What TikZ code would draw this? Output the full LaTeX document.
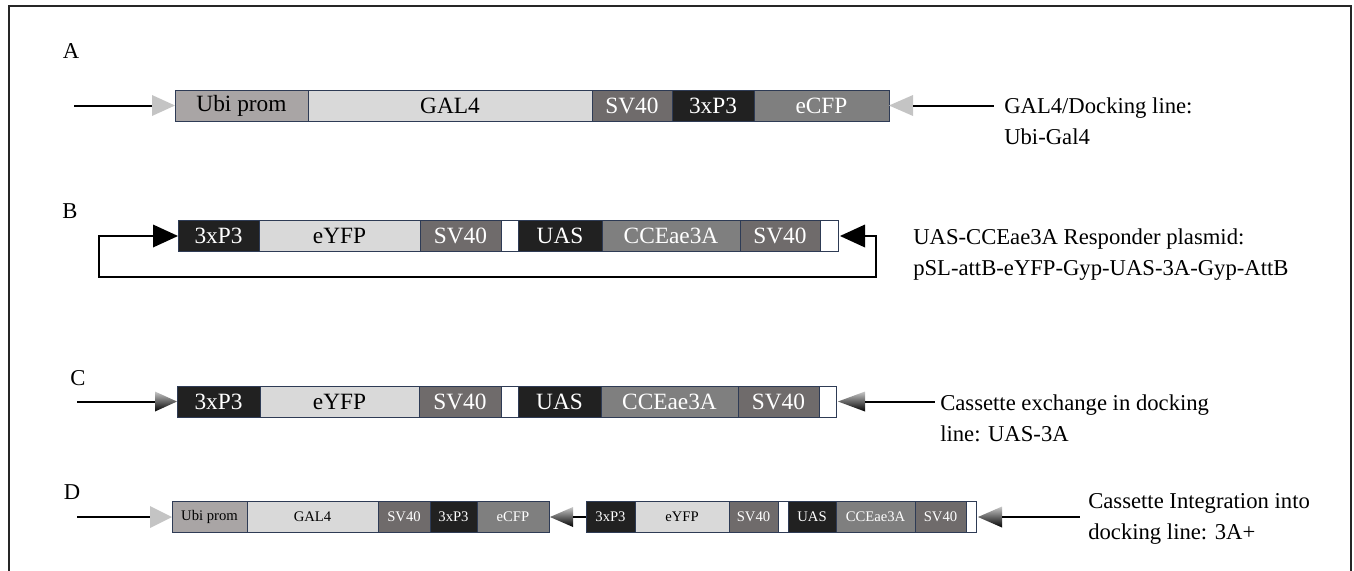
\documentclass[tikz,border=0pt]{standalone}
\usepackage{fontspec}
\setmainfont{Liberation Serif}
\usetikzlibrary{calc}
\definecolor{cUbi}{HTML}{A9A5A5}
\definecolor{cLight}{HTML}{D9D9D9}
\definecolor{cSV}{HTML}{6F6B6B}
\definecolor{cDark}{HTML}{212121}
\definecolor{cCFP}{HTML}{7F7F7F}
\definecolor{boxline}{HTML}{2E3B55}
\definecolor{triLight}{HTML}{C4C4C4}
\begin{document}
\begin{tikzpicture}[x=0.75pt,y=-0.75pt,
  seg/.style={draw=boxline, line width=0.75pt, inner sep=0pt, outer sep=0pt,
    minimum height=31*0.75pt, anchor=west, font=\fontsize{17.5}{19}\selectfont},
  segs/.style={seg, font=\fontsize{11}{13}\selectfont},
  segw/.style={minimum width=#1*0.75pt},
  gUbi/.style={fill=cUbi, text=black},
  gLight/.style={fill=cLight, text=black},
  gSV/.style={fill=cSV, text=white},
  gDark/.style={fill=cDark, text=white},
  gCFP/.style={fill=cCFP, text=white},
  gWhite/.style={fill=white},
  conn/.style={draw=black, line width=1.5pt},
  thin/.style={draw=black, line width=0.9pt},
  triL/.style={fill=triLight},
  triB/.style={fill=black},
  triG/.style={top color=black!22, bottom color=black},
  rtext/.style={anchor=west, align=left, inner sep=0pt, font=\fontsize{17}{23.25}\selectfont},
  lbl/.style={inner sep=0pt, font=\fontsize{17}{18}\selectfont}
]
\useasboundingbox (0,0) rectangle (1354,571);
% frame
\coordinate (f1) at (9,580);
\coordinate (f2) at (9,6);
\coordinate (f3) at (1351,6);
\coordinate (f4) at (1351,580);
\draw[line width=1.5pt, black!85] (f1) -- (f2) -- (f3) -- (f4);

% ---------- Row A ----------
\node[lbl] (LA) at (71,51) {A};
\node[seg,segw=133,gUbi]   (a1) at (175,105.5) {Ubi prom};
\node[seg,segw=284,gLight] (a2) at (308,105.5) {GAL4};
\node[seg,segw=80,gSV]     (a3) at (592,105.5) {SV40};
\node[seg,segw=82,gDark]   (a4) at (672,105.5) {3xP3};
\node[seg,segw=135,gCFP]   (a5) at (754,105.5) {eCFP};
\coordinate (aLs) at (74,105.5);
\coordinate (aLb) at ($(a1.west)+(-23,0)$);
\fill[triL] (a1.west) -- ++(-23,-10.5) -- ++(0,21) -- cycle;
\draw[conn] (aLs) -- (aLb);
\coordinate (aRb) at ($(a5.east)+(24,0)$);
\coordinate (aRe) at (994,105.5);
\fill[triL] (a5.east) -- ++(24,-10.5) -- ++(0,21) -- cycle;
\draw[conn] (aRb) -- (aRe);
\node[rtext] (TA) at (1004,121) {GAL4/Docking line:\\Ubi-Gal4};

% ---------- Row B ----------
\node[lbl] (LB) at (70,211) {B};
\node[seg,segw=81,gDark]   (b1) at (178,236) {3xP3};
\node[seg,segw=161,gLight] (b2) at (259,236) {eYFP};
\node[seg,segw=81,gSV]     (b3) at (420,236) {SV40};
\node[seg,segw=17,gWhite]  (b4) at (501,236) {};
\node[seg,segw=84,gDark]   (b5) at (518,236) {UAS};
\node[seg,segw=138,gCFP]   (b6) at (602,236) {CCEae3A};
\node[seg,segw=80,gSV]     (b7) at (740,236) {SV40};
\node[seg,segw=18,gWhite]  (b8) at (820,236) {};
\coordinate (bLb) at ($(b1.west)+(-25,0)$);
\coordinate (bRb) at ($(b8.east)+(27,0)$);
\coordinate (bL1) at (99,277);
\coordinate (bR1) at (876,277);
\fill[triB] (b1.west) -- ++(-25,-11.5) -- ++(0,23) -- cycle;
\fill[triB] ($(b8.east)+(2,0)$) -- ++(25,-11.5) -- ++(0,23) -- cycle;
\draw[thin] (bLb) -| (bL1) -- (bR1) |- (bRb);
\node[rtext] (TB) at (913,254.5) {UAS-CCEae3A Responder plasmid:\\pSL-attB-eYFP-Gyp-UAS-3A-Gyp-AttB};

% ---------- Row C ----------
\node[lbl] (LC) at (78,378) {C};
\node[seg,segw=83,gDark]   (c1) at (177,401.5) {3xP3};
\node[seg,segw=159,gLight] (c2) at (260,401.5) {eYFP};
\node[seg,segw=82,gSV]     (c3) at (419,401.5) {SV40};
\node[seg,segw=17,gWhite]  (c4) at (501,401.5) {};
\node[seg,segw=83,gDark]   (c5) at (518,401.5) {UAS};
\node[seg,segw=137,gCFP]   (c6) at (601,401.5) {CCEae3A};
\node[seg,segw=81,gSV]     (c7) at (738,401.5) {SV40};
\node[seg,segw=17,gWhite]  (c8) at (819,401.5) {};
\coordinate (cLs) at (77,401.5);
\coordinate (cLb) at ($(c1.west)+(-22,0)$);
\shade[triG] (c1.west) -- ++(-22,-10) -- ++(0,20) -- cycle;
\draw[conn] (cLs) -- (cLb);
\coordinate (cRb) at ($(c8.east)+(29,0)$);
\coordinate (cRe) at (935,401.5);
\shade[triG] ($(c8.east)+(2,0)$) -- ++(27,-10) -- ++(0,20) -- cycle;
\draw[conn] (cRb) -- (cRe);
\node[rtext] (TC) at (940,418) {Cassette exchange in docking\\line: UAS-3A};

% ---------- Row D ----------
\node[lbl] (LD) at (72,492) {D};
\node[segs,segw=75,gUbi]   (d1) at (172,517) {Ubi prom};
\node[segs,segw=131,gLight](d2) at (247,517) {GAL4};
\node[segs,segw=52,gSV]    (d3) at (378,517) {SV40};
\node[segs,segw=47,gDark]  (d4) at (430,517) {3xP3};
\node[segs,segw=72,gCFP]   (d5) at (477,517) {eCFP};
\node[segs,segw=49,gDark]  (e1) at (586,517) {3xP3};
\node[segs,segw=94,gLight] (e2) at (635,517) {eYFP};
\node[segs,segw=49,gSV]    (e3) at (729,517) {SV40};
\node[segs,segw=10,gWhite] (e4) at (778,517) {};
\node[segs,segw=48,gDark]  (e5) at (788,517) {UAS};
\node[segs,segw=79,gCFP]   (e6) at (836,517) {CCEae3A};
\node[segs,segw=51,gSV]    (e7) at (915,517) {SV40};
\node[segs,segw=10,gWhite] (e8) at (966,517) {};
\coordinate (dLs) at (77,517);
\coordinate (dLb) at ($(d1.west)+(-22,0)$);
\fill[triL] (d1.west) -- ++(-22,-11) -- ++(0,22) -- cycle;
\draw[conn] (dLs) -- (dLb);
\coordinate (dMb) at ($(d5.east)+(24,0)$);
\shade[triG] ($(d5.east)+(1,0)$) -- ++(23,-10) -- ++(0,20) -- cycle;
\draw[thin] (dMb) -- (e1.west);
\coordinate (dRb) at ($(e8.east)+(26,0)$);
\coordinate (dRe) at (1080,517);
\shade[triG] ($(e8.east)+(2,0)$) -- ++(24,-10.5) -- ++(0,21) -- cycle;
\draw[conn] (dRb) -- (dRe);
\node[rtext] (TD) at (1088,519) {Cassette Integration into\\docking line: 3A+};
\end{tikzpicture}
\end{document}
